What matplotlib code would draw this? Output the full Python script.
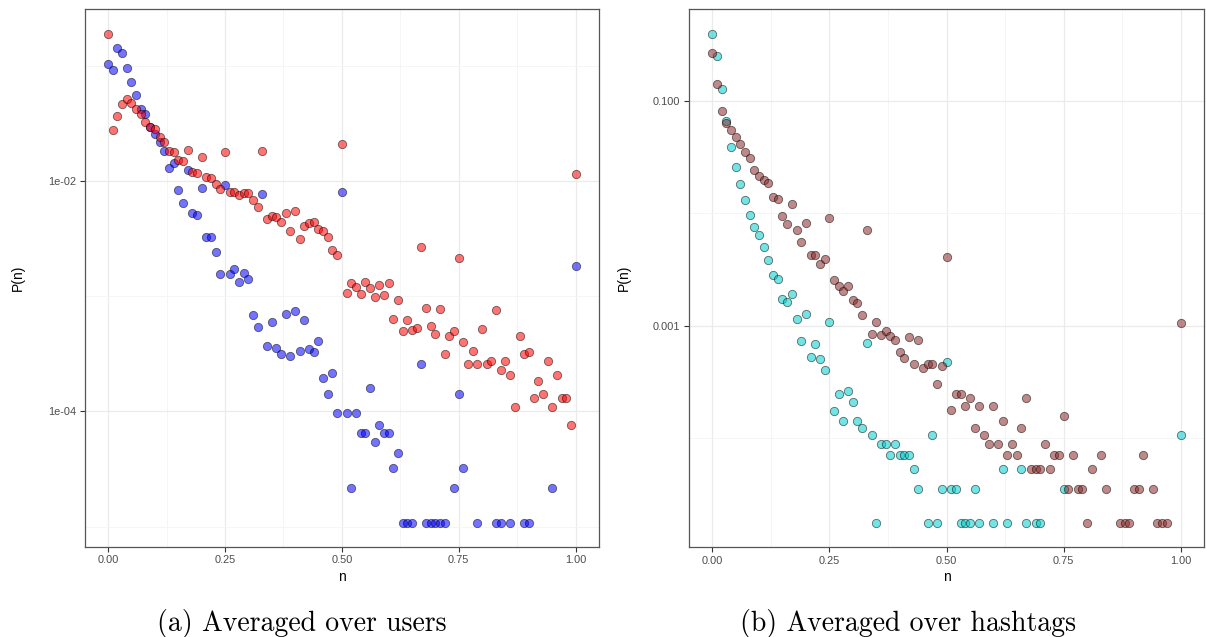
import numpy as np
import matplotlib
matplotlib.use("Agg")
import matplotlib.pyplot as plt

# n values and log10 P(n) for each series (empty bins are simply absent)
users_red_n = [0.00, 0.01, 0.02, 0.03, 0.04, 0.05, 0.06, 0.07, 0.08, 0.09,
               0.10, 0.11, 0.12, 0.13, 0.14, 0.15, 0.16, 0.17, 0.18, 0.19,
               0.20, 0.21, 0.22, 0.23, 0.24, 0.25, 0.26, 0.27, 0.28, 0.29,
               0.30, 0.31, 0.32, 0.33, 0.34, 0.35, 0.36, 0.37, 0.38, 0.39,
               0.40, 0.41, 0.42, 0.43, 0.44, 0.45, 0.46, 0.47, 0.48, 0.49,
               0.50, 0.51, 0.52, 0.53, 0.54, 0.55, 0.56, 0.57, 0.58, 0.59,
               0.60, 0.61, 0.62, 0.63, 0.64, 0.65, 0.66, 0.67, 0.68, 0.69,
               0.70, 0.71, 0.72, 0.73, 0.74, 0.75, 0.76, 0.77, 0.78, 0.79,
               0.80, 0.81, 0.82, 0.83, 0.84, 0.85, 0.86, 0.87, 0.88, 0.89,
               0.90, 0.91, 0.92, 0.93, 0.94, 0.95, 0.96, 0.97, 0.98, 0.99,
               1.00]
users_red_logp = [-0.719, -1.552, -1.430, -1.326, -1.289, -1.321, -1.373, -1.419, -1.488, -1.529,
                  -1.546, -1.616, -1.662, -1.737, -1.742, -1.818, -1.824, -1.731, -1.916, -1.928,
                  -1.789, -1.963, -1.968, -2.026, -2.066, -1.748, -2.095, -2.090, -2.119, -2.101,
                  -2.101, -2.159, -2.228, -1.737, -2.332, -2.304, -2.315, -2.350, -2.275, -2.431,
                  -2.258, -2.500, -2.390, -2.361, -2.355, -2.419, -2.436, -2.488, -2.598, -2.639,
                  -1.673, -2.969, -2.887, -2.917, -2.983, -2.876, -2.931, -3.003, -2.899, -2.986,
                  -2.887, -3.194, -3.035, -3.301, -3.208, -3.292, -3.275, -2.570, -3.101, -3.255,
                  -3.330, -3.107, -3.503, -3.344, -3.301, -2.668, -3.396, -3.584, -3.472, -3.584,
                  -3.281, -3.584, -3.564, -3.119, -3.639, -3.564, -3.686, -3.963, -3.342, -3.500,
                  -3.486, -3.882, -3.732, -3.850, -3.564, -3.963, -3.686, -3.882, -3.882, -4.116,
                  -1.937]

users_blue_n = [0.00, 0.01, 0.02, 0.03, 0.04, 0.05, 0.06, 0.07, 0.08, 0.09,
                0.10, 0.11, 0.12, 0.13, 0.14, 0.15, 0.16, 0.17, 0.18, 0.19,
                0.20, 0.21, 0.22, 0.23, 0.24, 0.25, 0.26, 0.27, 0.28, 0.29,
                0.30, 0.31, 0.32, 0.33, 0.34, 0.35, 0.36, 0.37, 0.38, 0.39,
                0.40, 0.41, 0.42, 0.43, 0.44, 0.45, 0.46, 0.47, 0.48, 0.49,
                0.50, 0.51, 0.52, 0.53, 0.54, 0.55, 0.56, 0.57, 0.58, 0.59,
                0.60, 0.61, 0.62, 0.63, 0.64, 0.65, 0.67, 0.68, 0.69, 0.70,
                0.71, 0.72, 0.74, 0.75, 0.76, 0.79, 0.83, 0.84, 0.86, 0.89,
                0.90, 0.95, 1.00]
users_blue_logp = [-0.979, -1.031, -0.840, -0.884, -1.014, -1.141, -1.254, -1.373, -1.413, -1.529,
                   -1.592, -1.662, -1.737, -1.887, -1.841, -2.075, -2.193, -1.899, -2.280, -2.292,
                   -2.063, -2.486, -2.488, -2.618, -2.807, -2.029, -2.807, -2.761, -2.876, -2.795,
                   -2.850, -3.165, -3.266, -2.107, -3.434, -3.226, -3.448, -3.500, -3.151, -3.518,
                   -3.125, -3.472, -3.206, -3.457, -3.486, -3.385, -3.709, -3.850, -3.663, -4.009,
                   -2.093, -4.009, -4.663, -4.009, -4.186, -4.186, -3.792, -4.264, -4.118, -4.186,
                   -4.186, -4.489, -4.362, -4.965, -4.965, -4.965, -3.584, -4.965, -4.965, -4.965,
                   -4.965, -4.965, -4.663, -3.850, -4.489, -4.965, -4.965, -4.965, -4.965, -4.965,
                   -4.965, -4.663, -2.740]

tags_brown_n = [0.00, 0.01, 0.02, 0.03, 0.04, 0.05, 0.06, 0.07, 0.08, 0.09,
                0.10, 0.11, 0.12, 0.13, 0.14, 0.15, 0.16, 0.17, 0.18, 0.19,
                0.20, 0.21, 0.22, 0.23, 0.24, 0.25, 0.26, 0.27, 0.28, 0.29,
                0.30, 0.31, 0.32, 0.33, 0.34, 0.35, 0.36, 0.37, 0.38, 0.39,
                0.40, 0.41, 0.42, 0.43, 0.44, 0.45, 0.46, 0.47, 0.48, 0.49,
                0.50, 0.51, 0.52, 0.53, 0.54, 0.55, 0.56, 0.57, 0.58, 0.59,
                0.60, 0.61, 0.62, 0.63, 0.64, 0.65, 0.66, 0.67, 0.68, 0.69,
                0.70, 0.71, 0.72, 0.73, 0.74, 0.75, 0.76, 0.77, 0.78, 0.79,
                0.80, 0.81, 0.83, 0.84, 0.87, 0.88, 0.89, 0.90, 0.91, 0.92,
                0.94, 0.95, 0.96, 0.97, 1.00]
tags_brown_logp = [-0.573, -0.852, -1.085, -1.196, -1.254, -1.320, -1.385, -1.456, -1.503, -1.610,
                   -1.663, -1.699, -1.729, -1.853, -1.876, -2.025, -2.096, -1.912, -2.147, -2.256,
                   -2.084, -2.369, -2.369, -2.452, -2.407, -2.043, -2.591, -2.644, -2.689, -2.647,
                   -2.772, -2.801, -2.905, -2.152, -3.074, -2.970, -3.083, -3.047, -3.089, -3.130,
                   -3.231, -3.290, -3.100, -3.340, -3.130, -3.373, -3.340, -3.340, -3.521, -3.358,
                   -2.392, -3.752, -3.607, -3.607, -3.711, -3.640, -3.907, -3.711, -3.974, -4.054,
                   -3.711, -4.054, -3.850, -4.149, -4.054, -4.149, -3.907, -3.640, -4.277, -4.277,
                   -4.277, -4.054, -4.277, -4.149, -4.149, -3.800, -4.452, -4.149, -4.452, -4.452,
                   -4.754, -4.277, -4.149, -4.452, -4.754, -4.754, -4.754, -4.452, -4.452, -4.149,
                   -4.452, -4.754, -4.754, -4.754, -2.979]

tags_cyan_n = [0.00, 0.01, 0.02, 0.03, 0.04, 0.05, 0.06, 0.07, 0.08, 0.09,
               0.10, 0.11, 0.12, 0.13, 0.14, 0.15, 0.16, 0.17, 0.18, 0.19,
               0.20, 0.21, 0.22, 0.23, 0.24, 0.25, 0.26, 0.27, 0.28, 0.29,
               0.30, 0.31, 0.32, 0.33, 0.34, 0.35, 0.36, 0.37, 0.38, 0.39,
               0.40, 0.41, 0.42, 0.43, 0.44, 0.46, 0.47, 0.48, 0.49, 0.50,
               0.51, 0.52, 0.53, 0.54, 0.55, 0.56, 0.57, 0.60, 0.62, 0.63,
               0.66, 0.67, 0.69, 0.70, 0.75, 1.00]
tags_cyan_logp = [-0.401, -0.603, -0.890, -1.178, -1.409, -1.587, -1.738, -1.885, -2.010, -2.125,
                  -2.194, -2.300, -2.419, -2.552, -2.582, -2.760, -2.789, -2.721, -2.938, -3.133,
                  -2.896, -3.278, -3.163, -3.293, -3.391, -2.964, -3.756, -3.610, -3.850, -3.578,
                  -3.676, -3.850, -3.909, -3.151, -3.974, -4.754, -4.054, -4.054, -4.149, -4.054,
                  -4.149, -4.149, -4.149, -4.277, -4.452, -4.754, -3.974, -4.754, -4.452, -3.323,
                  -4.452, -4.452, -4.754, -4.754, -4.754, -4.452, -4.754, -4.754, -4.277, -4.754,
                  -4.277, -4.754, -4.754, -4.754, -4.452, -3.974]

x_ticks = [0.0, 0.25, 0.5, 0.75, 1.0]
x_tick_labels = ["0.00", "0.25", "0.50", "0.75", "1.00"]
x_minor = [0.125, 0.375, 0.625, 0.875]

left_yticks = [1e-2, 1e-4]
left_ytick_labels = ["1e-02", "1e-04"]
left_yminor = [1e-1, 1e-3, 1e-5]
right_yticks = [1e-1, 1e-3]
right_ytick_labels = ["0.100", "0.001"]
right_yminor = [1e-2, 1e-4]

plt.rcParams["font.family"] = ["Liberation Sans", "DejaVu Sans"]

fig = plt.figure(figsize=(12.06, 6.37), dpi=100)
fig.patch.set_facecolor("white")

ax_l = fig.add_axes([84.7 / 1206, 1 - 547 / 637, 514.3 / 1206, 537.7 / 637])
ax_r = fig.add_axes([688.7 / 1206, 1 - 547.3 / 637, 515.6 / 1206, 538 / 637])


def points(ax, n, logp, fill):
    ax.scatter(n, 10 ** np.array(logp), s=36, facecolor=fill,
               edgecolor=(0, 0, 0, 0.55), linewidth=0.6, zorder=3)


def style_panel(ax, yticks, ylabels, yminor, all_logp, label_x):
    lo = min(min(v) for v in all_logp)
    hi = max(max(v) for v in all_logp)
    pad = 0.05 * (hi - lo)
    ax.set_yscale("log")
    ax.set_ylim(10 ** (lo - pad), 10 ** (hi + pad))
    ax.set_xlim(-0.05, 1.05)

    ax.set_xticks(x_ticks)
    ax.set_xticklabels(x_tick_labels)
    ax.set_xticks(x_minor, minor=True)
    ax.set_yticks(yticks)
    ax.set_yticklabels(ylabels)
    ax.set_yticks(yminor, minor=True)
    ax.yaxis.set_minor_formatter(matplotlib.ticker.NullFormatter())

    ax.tick_params(which="major", length=3.5, width=0.8, color="#333333",
                   labelsize=7.9, labelcolor="#4d4d4d", pad=2.5)
    ax.tick_params(which="minor", length=0)
    ax.grid(which="major", color="#ebebeb", linewidth=0.9, zorder=0)
    ax.grid(which="minor", color="#f4f4f4", linewidth=0.6, zorder=0)
    ax.set_axisbelow(True)
    for sp in ax.spines.values():
        sp.set_color("#555555")
        sp.set_linewidth(0.9)

    ax.set_xlabel("n", fontsize=10, color="black")
    ax.xaxis.set_label_coords(0.5, -0.042)
    ax.set_ylabel("P(n)", fontsize=10, color="black")
    ax.yaxis.set_label_coords(label_x, 0.5)


points(ax_l, users_blue_n, users_blue_logp, (0.0, 0.0, 1.0, 0.55))
points(ax_l, users_red_n, users_red_logp, (1.0, 0.0, 0.0, 0.55))
style_panel(ax_l, left_yticks, left_ytick_labels, left_yminor,
            [users_red_logp, users_blue_logp], -0.116)

points(ax_r, tags_cyan_n, tags_cyan_logp, (0.0, 0.80, 0.80, 0.55))
points(ax_r, tags_brown_n, tags_brown_logp, (0.55, 0.16, 0.16, 0.55))
style_panel(ax_r, right_yticks, right_ytick_labels, right_yminor,
            [tags_brown_logp, tags_cyan_logp], -0.112)

# sub-figure captions in the LaTeX roman face
fig.text(302 / 1206, 1 - 624 / 637, "(a) Averaged over users",
         fontfamily="cmr10", fontsize=20, ha="center", va="center")
fig.text(908 / 1206, 1 - 624 / 637, "(b) Averaged over hashtags",
         fontfamily="cmr10", fontsize=20, ha="center", va="center")

fig.savefig("out.png", dpi=100, facecolor="white")
